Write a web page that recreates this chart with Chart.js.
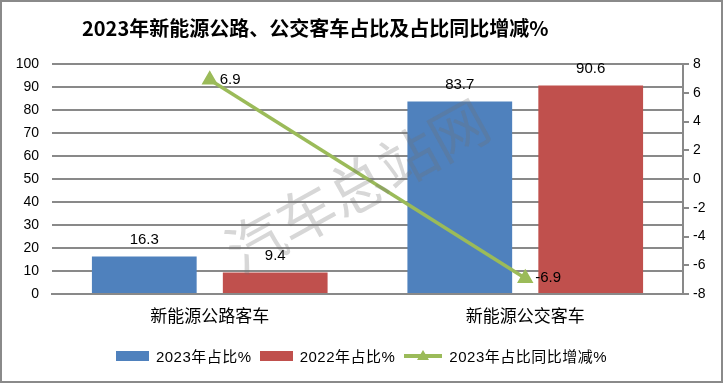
<!DOCTYPE html>
<html>
<head>
<meta charset="utf-8">
<script src="https://cdn.jsdelivr.net/npm/chart.js@4/dist/chart.umd.min.js"></script>
<style>
  body { margin: 0; background: #fff; }
  #wrap { position: relative; width: 723px; height: 383px; font-family: "Liberation Sans", "Noto Sans CJK SC", sans-serif; }
  #frame { position: absolute; left: 0; top: 0; width: 723px; height: 383px; box-sizing: border-box; border: 2px solid #8a8a8a; pointer-events: none; }
  #title { position: absolute; left: 82px; top: 13px; font: bold 20px "Noto Sans CJK SC", sans-serif; color: #000; white-space: nowrap; }
  #legend { position: absolute; left: 0; top: 345px; width: 723px; display: flex; justify-content: center; align-items: center; font-size: 15px; color: #000; }
  .item { display: flex; align-items: center; margin: 0 4px; letter-spacing: 0.5px; }
  .box { width: 33px; height: 10px; margin-right: 7px; }
</style>
</head>
<body>
<div id="wrap">
  <canvas id="chart" width="723" height="383"></canvas>
  <div id="title">2023年新能源公路、公交客车占比及占比同比增减%</div>
  <div id="legend">
    <div class="item"><span class="box" style="background:#4F81BD"></span>2023年占比%</div>
    <div class="item"><span class="box" style="background:#C0504D"></span>2022年占比%</div>
    <div class="item"><svg width="40" height="14" style="margin-right:6px"><line x1="1" y1="7" x2="39" y2="7" stroke="#9BBB59" stroke-width="4"/><polygon points="20,1 26,11 14,11" fill="#9BBB59"/></svg>2023年占比同比增减%</div>
  </div>
  <div id="frame"></div>
</div>
<script>
// data
const categories = ["新能源公路客车", "新能源公交客车"];
const share2023 = [16.3, 83.7];
const share2022 = [9.4, 90.6];
const shareChange = [6.9, -6.9];

const gridGray = "#898989";
const numFont = { family: '"Liberation Sans", "Noto Sans CJK SC", sans-serif', size: 14 };

const labelPlugin = {
  id: "labels",
  afterDatasetsDraw(chart) {
    const ctx = chart.ctx;
    ctx.save();
    ctx.font = '15px "Liberation Sans", sans-serif';
    ctx.fillStyle = "#000";
    chart.data.datasets.forEach((ds, i) => {
      const meta = chart.getDatasetMeta(i);
      meta.data.forEach((el, j) => {
        const v = ds.data[j];
        if (ds.type === "line") {
          ctx.textAlign = "left";
          ctx.textBaseline = "middle";
          ctx.fillText(String(v), el.x + 10, el.y);
        } else {
          ctx.textAlign = "center";
          ctx.textBaseline = "bottom";
          ctx.fillText(String(v), el.x, el.y - 9);
        }
      });
    });
    ctx.restore();
  },
  afterDraw(chart) {
    // faint watermark
    const ctx = chart.ctx;
    ctx.save();
    ctx.translate(357, 186);
    ctx.rotate(-29 * Math.PI / 180);
    ctx.font = '58px "Noto Sans CJK SC", sans-serif';
    ctx.fillStyle = "rgba(110,110,110,0.28)";
    ctx.textAlign = "center";
    ctx.textBaseline = "middle";
    ctx.fillText("汽车总站网", 0, 0);
    ctx.restore();
  }
};

new Chart(document.getElementById("chart"), {
  data: {
    labels: categories,
    datasets: [
      {
        type: "line",
        label: "2023年占比同比增减%",
        data: shareChange,
        yAxisID: "y1",
        borderColor: "#9BBB59",
        backgroundColor: "#9BBB59",
        borderWidth: 3.5,
        pointStyle: "triangle",
        pointRadius: 6,
        pointBackgroundColor: "#9BBB59",
        pointBorderColor: "#9BBB59",
        order: 0
      },
      {
        type: "bar",
        label: "2023年占比%",
        data: share2023,
        backgroundColor: "#4F81BD",
        yAxisID: "y",
        barPercentage: 0.8,
        categoryPercentage: 0.83,
        order: 1
      },
      {
        type: "bar",
        label: "2022年占比%",
        data: share2022,
        backgroundColor: "#C0504D",
        yAxisID: "y",
        barPercentage: 0.8,
        categoryPercentage: 0.83,
        order: 1
      }
    ]
  },
  options: {
    responsive: false,
    animation: false,
    layout: { padding: { top: 64 } },
    plugins: {
      legend: { display: false },
      title: { display: false },
      tooltip: { enabled: false }
    },
    scales: {
      x: {
        grid: { display: false },
        border: { display: true, color: gridGray, width: 2 },
        ticks: { color: "#000", font: { family: '"Noto Sans CJK SC", sans-serif', size: 17 }, padding: 3 },
        afterFit(s) { s.height = 89; }
      },
      y: {
        position: "left",
        min: 0,
        max: 100,
        ticks: { stepSize: 10, color: "#000", font: numFont, padding: 13 },
        grid: { color: gridGray, lineWidth: 2, drawTicks: false },
        border: { display: false },
        afterFit(s) { s.width = 52; }
      },
      y1: {
        position: "right",
        min: -8,
        max: 8,
        ticks: { stepSize: 2, color: "#000", font: numFont, padding: 4 },
        grid: { drawOnChartArea: false, color: gridGray, lineWidth: 2, tickLength: 6 },
        border: { display: true, color: gridGray, width: 2 },
        afterFit(s) { s.width = 40; }
      }
    }
  },
  plugins: [labelPlugin]
});
</script>
</body>
</html>
